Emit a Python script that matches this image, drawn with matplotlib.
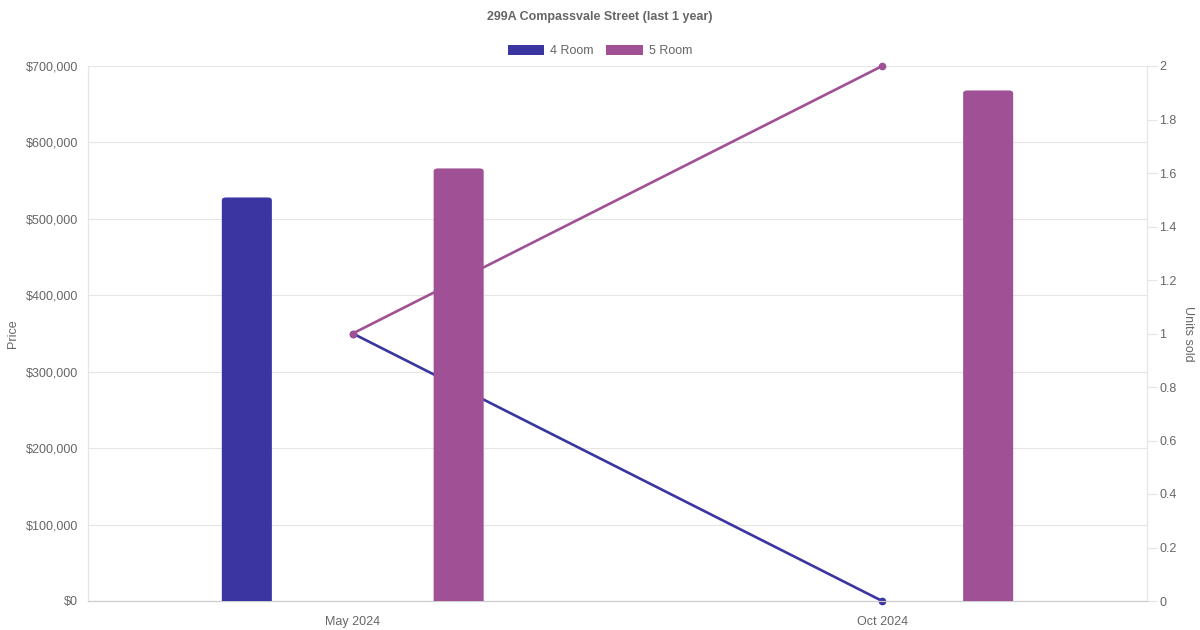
import numpy as np
import matplotlib
matplotlib.use("Agg")
import matplotlib.pyplot as plt
from matplotlib.patches import FancyBboxPatch

months = ["May 2024", "Oct 2024"]
series = ["4 Room", "5 Room"]
colors = ["#3a35a0", "#a05195"]
price_4room = [528000, None]
price_5room = [566000, 668000]
units_4room = [1, 0]
units_5room = [1, 2]
price_ticks = [0, 100000, 200000, 300000, 400000, 500000, 600000, 700000]
unit_ticks = [0, 0.2, 0.4, 0.6, 0.8, 1, 1.2, 1.4, 1.6, 1.8, 2]

TXT = "#666666"
GRID = "#e5e5e5"
plt.rcParams["font.family"] = ["Liberation Sans", "DejaVu Sans"]

fig = plt.figure(figsize=(12, 6.3), dpi=100)
ax = fig.add_axes([88 / 1200, 1 - 601 / 630, (1147 - 88) / 1200, (601 - 66) / 630])
ax2 = ax.twinx()

x = np.arange(len(months))
bar_w = 0.0945
offsets = [-0.2, 0.2]

ax.set_xlim(-0.5, 1.5)
ax.set_ylim(0, 700000)
ax2.set_ylim(0, 2)

# bars sit on the top axes, lines and grid on the lower one
ax.set_zorder(2)
ax.patch.set_visible(False)
ax2.set_zorder(1)

ytrans = ax.get_yaxis_transform()
for v in price_ticks:
    ax2.plot([0, 1], [v, v], color=GRID, lw=0.8, transform=ytrans, zorder=0)

for units, c in [(units_4room, colors[0]), (units_5room, colors[1])]:
    ax2.plot(x, units, color=c, lw=1.9, marker="o", ms=4.5, zorder=2, clip_on=False)

for prices, off, c in [(price_4room, offsets[0], colors[0]),
                       (price_5room, offsets[1], colors[1])]:
    for xi, p in zip(x, prices):
        if p is None:
            continue
        ax.add_patch(FancyBboxPatch((xi + off - bar_w / 2, -20000), bar_w, p + 20000,
                                    boxstyle="round,pad=0,rounding_size=0.008",
                                    mutation_aspect=700000 / 0.8 * (535 / 1059),
                                    fc=c, ec="none", zorder=3))

ax.set_xticks(x)
ax.set_xticklabels(months)
ax.set_yticks(price_ticks)
ax.set_yticklabels([f"${v:,.0f}" for v in price_ticks])
ax2.set_yticks(unit_ticks)
ax2.set_yticklabels([f"{v:g}" for v in unit_ticks])

ax.tick_params(axis="x", length=0, colors=TXT, labelsize=9, pad=11)
ax.tick_params(axis="y", length=0, colors=TXT, labelsize=9, pad=7)
ax2.tick_params(axis="y", length=7, color=GRID, colors=TXT, labelsize=9, pad=2)
for a in (ax, ax2):
    for s in a.spines.values():
        s.set_color(GRID)
        s.set_linewidth(0.8)
    a.spines["top"].set_visible(False)
ax.spines["bottom"].set_color("#cccccc")
ax2.spines["bottom"].set_color("#cccccc")

ax.set_ylabel("Price", color=TXT, fontsize=9, labelpad=5)
ax2.set_ylabel("Units sold", color=TXT, fontsize=9, rotation=270, labelpad=12)

fig.text(0.5, 1 - 17 / 630, "299A Compassvale Street (last 1 year)", ha="center",
         va="center", fontsize=9, fontweight="bold", color=TXT)

handles = [plt.Rectangle((0, 0), 1, 1, fc=c, ec="none") for c in colors]
fig.legend(handles, series, loc="center", bbox_to_anchor=(0.5, 1 - 51 / 630), ncol=2,
           frameon=False, fontsize=9, labelcolor=TXT, handlelength=2.9, handleheight=0.9,
           handletextpad=0.5, columnspacing=1.0)

fig.savefig("out.png", dpi=100)
